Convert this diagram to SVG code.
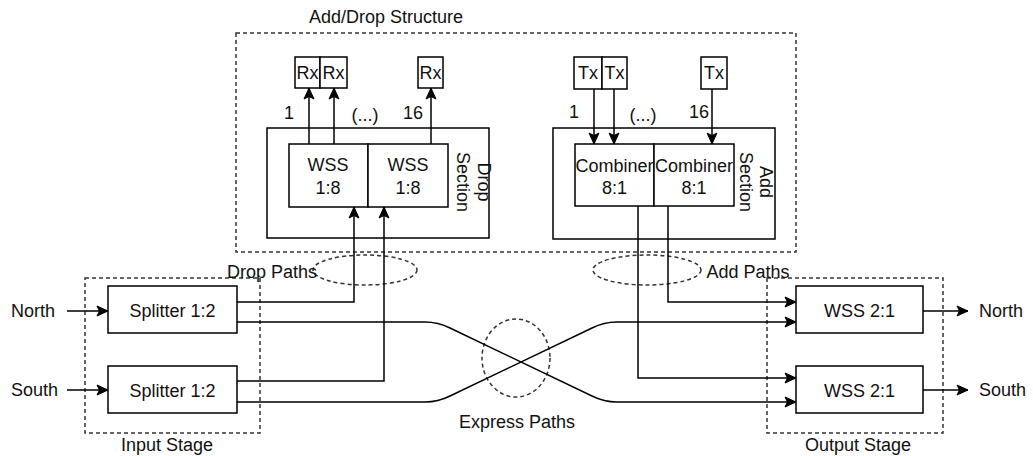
<svg xmlns="http://www.w3.org/2000/svg" width="1033" height="456" viewBox="0 0 1033 456">
<style>
text{font-family:"Liberation Sans",Arial,sans-serif;font-size:18px;fill:#111}
.box{fill:#fff;stroke:#000;stroke-width:1.5}
.sec{fill:none;stroke:#000;stroke-width:1.5}
.dash{fill:none;stroke:#333;stroke-width:1.5;stroke-dasharray:4 3}
.ln{fill:none;stroke:#000;stroke-width:1.5}
.arr{marker-end:url(#ah)}
.c{text-anchor:middle}
</style>
<defs>
<marker id="ah" markerUnits="userSpaceOnUse" markerWidth="13" markerHeight="13" viewBox="0 0 13 13" refX="12" refY="6.5" orient="auto">
<path d="M1,1.5 L12,6.5 L1,11.5 L3.5,6.5 Z" fill="#000" stroke="#000" stroke-width="1"/>
</marker>
</defs>

<g id="addDropStructure">
<rect class="dash" x="236" y="33" width="560" height="219"/>
<text class="c" x="386" y="23">Add/Drop Structure</text>
</g>

<g id="dropSection">
<rect class="sec" x="267" y="128" width="222" height="110"/>
<text class="c" transform="translate(478,182) rotate(90)">Drop</text>
<text class="c" transform="translate(457,182) rotate(90)">Section</text>
</g>
<g id="wss1"><rect class="box" x="289" y="144" width="79" height="63"/><text class="c" x="328" y="171">WSS</text><text class="c" x="328" y="194">1:8</text></g>
<g id="wss2"><rect class="box" x="368" y="144" width="80" height="63"/><text class="c" x="408" y="171">WSS</text><text class="c" x="408" y="194">1:8</text></g>
<g id="rx1"><rect class="box" x="295" y="57" width="25" height="31"/><text class="c" x="307.5" y="79">Rx</text></g>
<g id="rx2"><rect class="box" x="320" y="57" width="27" height="31"/><text class="c" x="333.5" y="79">Rx</text></g>
<g id="rx16"><rect class="box" x="418" y="57" width="25" height="31"/><text class="c" x="430.5" y="79">Rx</text></g>

<g id="addSection">
<rect class="sec" x="553" y="128" width="222" height="111"/>
<text class="c" transform="translate(760,182) rotate(90)">Add</text>
<text class="c" transform="translate(740,182) rotate(90)">Section</text>
</g>
<g id="combiner1"><rect class="box" x="575" y="144" width="79" height="62"/><text class="c" x="614.5" y="172">Combiner</text><text class="c" x="614.5" y="194">8:1</text></g>
<g id="combiner2"><rect class="box" x="654" y="144" width="80" height="62"/><text class="c" x="694" y="172">Combiner</text><text class="c" x="694" y="194">8:1</text></g>
<g id="tx1"><rect class="box" x="574" y="57" width="28" height="32"/><text class="c" x="588" y="79">Tx</text></g>
<g id="tx2"><rect class="box" x="602" y="57" width="25" height="32"/><text class="c" x="614.5" y="79">Tx</text></g>
<g id="tx16"><rect class="box" x="701" y="57" width="26" height="32"/><text class="c" x="714" y="79">Tx</text></g>

<g id="inputStage">
<rect class="dash" x="85" y="278" width="175" height="155"/>
<text class="c" x="167" y="451">Input Stage</text>
</g>
<g id="splitterNorth"><rect class="box" x="108" y="286" width="129" height="47"/><text class="c" x="172.5" y="317">Splitter 1:2</text></g>
<g id="splitterSouth"><rect class="box" x="108" y="366" width="129" height="47"/><text class="c" x="172.5" y="397">Splitter 1:2</text></g>

<g id="outputStage">
<rect class="dash" x="767" y="278" width="176" height="155"/>
<text class="c" x="858" y="451">Output Stage</text>
</g>
<g id="wssNorth"><rect class="box" x="796" y="286" width="127" height="47"/><text class="c" x="859.5" y="317">WSS 2:1</text></g>
<g id="wssSouth"><rect class="box" x="796" y="366" width="127" height="47"/><text class="c" x="859.5" y="397">WSS 2:1</text></g>

<g id="dropPaths">
<ellipse class="dash" cx="365" cy="270" rx="52" ry="15"/>
</g>
<g id="addPaths">
<ellipse class="dash" cx="647" cy="270" rx="54" ry="15"/>
</g>
<g id="expressPaths">
<ellipse class="dash" cx="516" cy="358" rx="34" ry="39"/>
</g>

<g id="connectors">
<path class="ln arr" d="M67,311 H108"/>
<path class="ln arr" d="M67,390 H108"/>
<path class="ln arr" d="M923,311 H968"/>
<path class="ln arr" d="M923,390 H968"/>
<path class="ln arr" d="M309,144 V88"/>
<path class="ln arr" d="M334,144 V88"/>
<path class="ln arr" d="M431,144 V88"/>
<path class="ln arr" d="M594,89 V144"/>
<path class="ln arr" d="M614,89 V144"/>
<path class="ln arr" d="M712,89 V144"/>
<path class="ln arr" d="M237,302 H354 V207"/>
<path class="ln arr" d="M237,381 H384 V207"/>
<path class="ln arr" d="M668,206 V302 H796"/>
<path class="ln arr" d="M638,206 V378 H796"/>
<path class="ln arr" d="M237,322 H425 Q438,322 450,328 L592,396 Q604,402 617,402 H796"/>
<path class="ln arr" d="M237,402 H425 Q438,402 450,396 L592,328 Q604,322 617,322 H796"/>
</g>

<g id="labels">
<text x="11" y="317">North</text>
<text x="11" y="396">South</text>
<text x="979" y="317">North</text>
<text x="979" y="396">South</text>
<text x="284" y="119">1</text>
<text class="c" x="365" y="121">(...)</text>
<text x="403" y="119">16</text>
<text x="569" y="118">1</text>
<text class="c" x="643" y="121">(...)</text>
<text x="689" y="118">16</text>
<text class="c" x="272" y="278">Drop Paths</text>
<text class="c" x="748" y="278">Add Paths</text>
<text class="c" x="517" y="428">Express Paths</text>
</g>
</svg>
